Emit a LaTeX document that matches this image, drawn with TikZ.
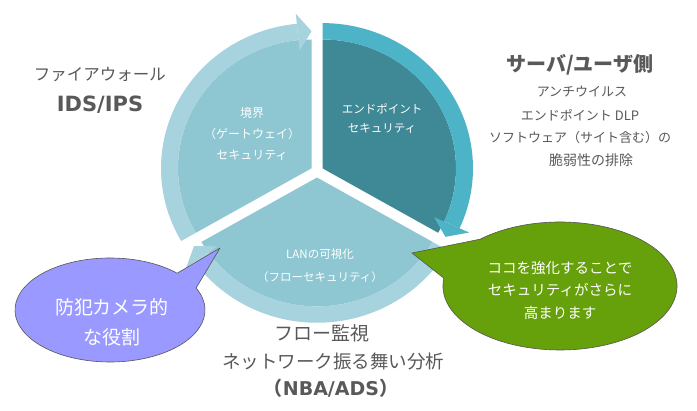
\documentclass[tikz,border=0pt]{standalone}
\usepackage{fontspec}
\setmainfont{Noto Sans CJK JP}
\newfontfamily\latinbold{DejaVu Sans}
\usetikzlibrary{calc}

\definecolor{segLight}{HTML}{8EC6D2}
\definecolor{bandLight}{HTML}{A6D3DE}
\definecolor{segDark}{HTML}{3E8995}
\definecolor{bandDark}{HTML}{4DB4C7}
\definecolor{txtGray}{HTML}{595959}
\definecolor{camPurple}{HTML}{9999FF}
\definecolor{tipGreen}{HTML}{66A00A}
\definecolor{rimGray}{HTML}{555555}

\tikzset{
  seglabel/.style={text=white, align=center, inner sep=0pt},
  outlabel/.style={text=txtGray, align=center, inner sep=0pt},
  calloutshape/.style={draw=rimGray, line width=0.6pt, line join=round},
}

\begin{document}
\begin{tikzpicture}[x=1pt,y=1pt]
\useasboundingbox (0,0) rectangle (697,411);
\fill[white] (0,0) rectangle (697,411);

% Cycle
\begin{scope}[shift={(317,239.6)}, yscale=0.965]
  %Segment: gateway (left)
  \begin{scope}[shift={(150:6.35pt)}]
    \fill[segLight] (0,0) -- (210:133.5pt) arc[start angle=210, end angle=90, radius=133.5pt] -- cycle;
    \fill[bandLight] (210:150.5pt) arc[start angle=210, end angle=95.6, radius=150.5pt]
      -- (95.6:133.5pt) arc[start angle=95.6, end angle=210, radius=133.5pt] -- cycle;
    \fill[bandLight] (95.6:122.5pt) -- (95.6:161pt) -- (90:142pt) -- cycle;
  \end{scope}
  %Segment: endpoint (right)
  \begin{scope}[shift={(30:6.35pt)}]
    \fill[segDark] (0,0) -- (90:133.5pt) arc[start angle=90, end angle=-30, radius=133.5pt] -- cycle;
    \fill[bandDark] (90:150.5pt) arc[start angle=90, end angle=-24.4, radius=150.5pt]
      -- (-24.4:133.5pt) arc[start angle=-24.4, end angle=90, radius=133.5pt] -- cycle;
    \fill[bandDark] (-24.4:122.5pt) -- (-24.4:161pt) -- (-30:142pt) -- cycle;
  \end{scope}
  %Segment: LAN (bottom)
  \begin{scope}[shift={(270:6.35pt)}]
    \fill[segLight] (0,0) -- (-30:133.5pt) arc[start angle=-30, end angle=-150, radius=133.5pt] -- cycle;
    \fill[bandLight] (-30:150.5pt) arc[start angle=-30, end angle=-144.4, radius=150.5pt]
      -- (-144.4:133.5pt) arc[start angle=-144.4, end angle=-30, radius=133.5pt] -- cycle;
    \fill[bandLight] (-144.4:122.5pt) -- (-144.4:161pt) -- (-150:142pt) -- cycle;
  \end{scope}
\end{scope}

% Text Node
\node[seglabel, font=\fontsize{12}{21}\selectfont] (gateway) at (252,277) {境界\\（ゲートウェイ）\\セキュリティ};
% Text Node
\node[seglabel, font=\fontsize{11.5}{19}\selectfont] (endpoint) at (382,292) {エンドポイント\\セキュリティ};
% Text Node
\node[seglabel, font=\fontsize{11.5}{23}\selectfont] (lanview) at (320,145) {LANの可視化\\（フローセキュリティ）};

% Text Node
\node[outlabel, font=\fontsize{16.5}{18}\selectfont] (firewall) at (100,336) {ファイアウォール};
% Text Node
\node[outlabel, font=\fontsize{21}{23}\latinbold\bfseries] (idsips) at (100,306) {IDS/IPS};

% Text Node
\node[outlabel, font=\fontsize{20}{22}\bfseries] (serverside) at (580,346) {サーバ/ユーザ側};
% Text Node
\node[outlabel, font=\fontsize{13}{15}\selectfont] (antivirus) at (582,319) {アンチウイルス};
% Text Node
\node[outlabel, font=\fontsize{13}{15}\selectfont] (dlp) at (580,296) {エンドポイント DLP};
% Text Node
\node[outlabel, font=\fontsize{13}{15}\selectfont] (software) at (580,273) {ソフトウェア（サイト含む）の};
% Text Node
\node[outlabel, font=\fontsize{14}{15}\selectfont] (vuln) at (591,251) {脆弱性の排除};

% Text Node
\node[outlabel, font=\fontsize{19}{21}\selectfont] (flowmon) at (322,78) {フロー監視};
% Text Node
\node[outlabel, font=\fontsize{18.5}{21}\selectfont] (nba) at (333,49) {ネットワーク振る舞い分析};
% Text Node
\node[outlabel, font=\fontsize{19}{21}\bfseries] (nbaads) at (331,23) {（{\latinbold\bfseries NBA/ADS}）};

% Callout: camera
\coordinate (camc) at (110,101);
\coordinate (camtip) at (220,163);
\draw[calloutshape, fill=camPurple] ($(camc)+(45:95pt and 52pt)$) -- (camtip) -- ($(camc)+(25:95pt and 52pt)$)
  arc[start angle=25, end angle=-315, x radius=95pt, y radius=52pt] -- cycle;
% Text Node
\node[seglabel, font=\fontsize{19}{30}\selectfont] (camera) at (112,89) {防犯カメラ的\\な役割};

% Callout: strengthen
\coordinate (tipc) at (560,125);
\coordinate (tiptip) at (412,158);
\draw[calloutshape, fill=tipGreen] ($(tipc)+(133:117pt and 64pt)$) -- (tiptip) -- ($(tipc)+(173:117pt and 64pt)$)
  arc[start angle=173, end angle=493, x radius=117pt, y radius=64pt] -- cycle;
% Text Node
\node[seglabel, font=\fontsize{14.5}{22.5}\selectfont] (strengthen) at (560,121) {ココを強化することで\\セキュリティがさらに\\高まります};

\end{tikzpicture}
\end{document}
